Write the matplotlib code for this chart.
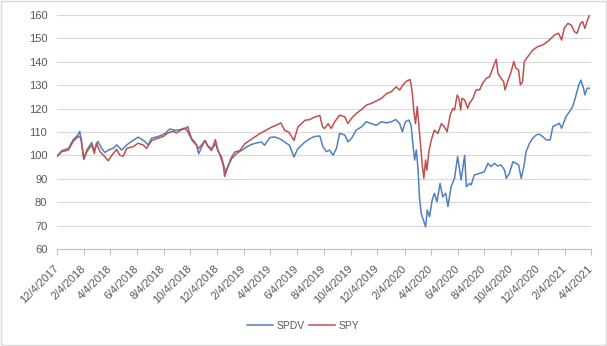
import matplotlib
matplotlib.use("Agg")
import matplotlib.pyplot as plt
import pandas as pd
from matplotlib.patches import Rectangle

plt.rcParams['font.family'] = ['Liberation Sans', 'DejaVu Sans']

start_date = "2017-12-04"

# SPY: days since 12/4/2017 and values
spy_day = [0, 11, 26, 37, 48, 55, 61, 68, 79, 85, 90, 98, 109, 117, 125, 136, 143, 151, 159, 174,
           185, 196, 204, 216, 231, 242, 253, 265, 272, 284, 295, 298, 300, 307, 314, 322, 329, 337,
           344, 352, 361, 367, 373, 379, 382, 389, 396, 405, 417, 428, 439, 451, 462, 473, 489, 500,
           510, 519, 528, 540, 549, 565, 576, 587, 599, 605, 610, 618, 625, 633, 644, 656, 663, 671,
           682, 694, 705, 716, 728, 739, 751, 762, 773, 781, 788, 797, 805, 810, 813, 817, 821, 825,
           829, 832, 836, 840, 843, 848, 853, 860, 868, 876, 883, 889, 896, 902, 906, 912, 916, 920,
           923, 929, 936, 940, 948, 955, 963, 970, 978, 986, 993, 1001, 1005, 1012, 1018, 1021, 1027,
           1035, 1041, 1046, 1052, 1056, 1061, 1065, 1073, 1084, 1096, 1107, 1118, 1126, 1134, 1143,
           1150, 1156, 1164, 1172, 1179, 1185, 1193, 1198, 1203, 1209, 1213]
spy_val = [99.5, 101.6, 102.3, 106.0, 108.1, 107.4, 98.3, 101.6, 104.5, 100.9, 105.2, 101.6, 99.4,
           97.7, 100.1, 102.6, 100.1, 99.7, 103.0, 103.8, 105.2, 104.5, 103.0, 106.4, 107.4, 108.1,
           109.6, 110.3, 109.6, 111.0, 111.7, 112.3, 110.7, 107.1, 105.7, 102.9, 104.3, 106.4, 103.9,
           102.1, 106.7, 102.1, 99.3, 95.7, 91.0, 95.0, 98.6, 101.4, 102.1, 105.0, 106.4, 107.9,
           109.3, 110.4, 112.1, 112.9, 113.9, 110.7, 110.0, 106.4, 112.1, 115.0, 115.3, 116.4, 117.1,
           112.2, 111.5, 113.6, 111.5, 114.4, 117.2, 116.5, 113.6, 115.8, 117.9, 119.6, 121.5, 122.2,
           123.3, 124.3, 126.4, 127.2, 129.3, 127.9, 130.0, 131.8, 132.4, 126.4, 119.3, 113.6, 120.8,
           112.2, 103.7, 96.6, 90.2, 98.0, 93.7, 102.3, 106.5, 110.8, 109.4, 113.6, 112.2, 110.1,
           117.2, 120.0, 119.4, 125.8, 124.4, 119.4, 124.4, 123.7, 120.1, 122.3, 124.4, 128.0, 128.0,
           130.8, 132.9, 133.6, 137.2, 141.1, 135.1, 132.9, 131.5, 128.0, 131.5, 135.8, 140.1, 137.2,
           136.5, 130.1, 131.5, 140.1, 142.2, 145.0, 146.5, 147.2, 148.6, 150.0, 151.5, 152.2, 149.3,
           154.3, 156.4, 155.7, 152.9, 152.2, 156.4, 157.2, 154.3, 157.9, 159.6]

# SPDV: days since 12/4/2017 and values
spdv_day = [0, 11, 26, 37, 48, 52, 61, 68, 79, 85, 93, 102, 109, 117, 128, 136, 147, 159, 170, 185,
            200, 208, 216, 231, 246, 257, 269, 280, 291, 299, 300, 308, 318, 323, 329, 337, 344, 354,
            361, 367, 375, 381, 384, 390, 398, 409, 420, 432, 443, 455, 466, 473, 485, 496, 508, 519,
            530, 540, 549, 565, 576, 587, 599, 606, 614, 621, 629, 637, 644, 656, 663, 671, 682, 694,
            705, 716, 728, 739, 751, 762, 772, 781, 787, 794, 802, 807, 811, 815, 819, 823, 826, 830,
            835, 840, 844, 849, 855, 860, 866, 873, 879, 886, 891, 898, 906, 913, 921, 929, 933, 940,
            944, 951, 963, 974, 982, 989, 997, 1004, 1012, 1020, 1024, 1031, 1039, 1046, 1052, 1058,
            1064, 1069, 1077, 1084, 1092, 1099, 1107, 1115, 1124, 1130, 1137, 1145, 1150, 1160, 1168,
            1175, 1181, 1188, 1194, 1200, 1203, 1208, 1213]
spdv_val = [99.7, 102.0, 103.0, 106.7, 108.8, 110.3, 98.7, 102.3, 105.5, 102.0, 106.0, 103.0, 101.2,
            102.3, 103.0, 104.5, 102.3, 104.5, 106.0, 107.8, 106.0, 104.5, 107.4, 108.1, 109.3, 111.3,
            110.7, 111.0, 111.7, 109.9, 109.3, 106.4, 104.3, 100.7, 103.3, 106.4, 103.9, 102.9, 105.0,
            101.9, 99.3, 95.0, 92.9, 95.3, 98.6, 100.7, 102.1, 103.6, 104.7, 105.3, 105.7, 104.3, 107.6,
            107.9, 107.1, 105.7, 104.3, 99.3, 102.9, 105.7, 107.1, 108.1, 108.3, 103.7, 101.6, 102.3,
            100.1, 103.0, 109.4, 108.7, 105.8, 107.2, 110.8, 112.2, 114.4, 113.6, 112.9, 114.4, 113.9,
            114.4, 115.3, 113.6, 110.1, 114.4, 115.1, 112.9, 105.1, 98.0, 102.3, 93.7, 82.3, 75.2, 72.4,
            69.5, 76.7, 73.8, 80.9, 83.8, 80.2, 88.0, 82.3, 83.8, 78.1, 86.6, 90.2, 99.5, 89.5, 100.0,
            86.6, 88.0, 87.4, 91.6, 92.3, 93.0, 96.6, 95.2, 96.6, 95.5, 95.9, 93.7, 90.2, 92.3, 97.3,
            96.6, 95.9, 90.2, 95.2, 101.6, 105.2, 107.3, 108.7, 109.1, 108.0, 106.6, 106.6, 112.3,
            113.0, 113.7, 111.6, 116.6, 118.7, 120.8, 124.4, 129.4, 132.2, 128.7, 125.8, 128.7, 128.7]

tick_dates = ["2017-12-04", "2018-02-04", "2018-04-04", "2018-06-04", "2018-08-04", "2018-10-04",
              "2018-12-04", "2019-02-04", "2019-04-04", "2019-06-04", "2019-08-04", "2019-10-04",
              "2019-12-04", "2020-02-04", "2020-04-04", "2020-06-04", "2020-08-04", "2020-10-04",
              "2020-12-04", "2021-02-04", "2021-04-04"]
y_ticks = [60, 70, 80, 90, 100, 110, 120, 130, 140, 150, 160]

t0 = pd.Timestamp(start_date)
spy_dates = t0 + pd.to_timedelta(spy_day, unit="D")
spdv_dates = t0 + pd.to_timedelta(spdv_day, unit="D")
ticks = pd.to_datetime(tick_dates)
tick_labels = [f"{d.month}/{d.day}/{d.year}" for d in ticks]

fig = plt.figure(figsize=(6.07, 3.46), dpi=100)
ax = fig.add_axes([57/607, 1-249/346, (591-57)/607, (249-15)/346])

blue = "#4F81BD"
red = "#C0504D"
ax.plot(spdv_dates, spdv_val, color=blue, lw=1.1, label="SPDV")
ax.plot(spy_dates, spy_val, color=red, lw=1.1, label="SPY")

ax.set_xlim(ticks[0], ticks[-1])
ax.set_ylim(60, 160)
ax.set_yticks(y_ticks)
ax.set_xticks(ticks)
ax.set_xticklabels(tick_labels, rotation=45, ha="right", va="center", rotation_mode="anchor")
ax.grid(axis="y", color="#D9D9D9", lw=0.8)
ax.set_axisbelow(True)
for s in ["left", "right", "top"]:
    ax.spines[s].set_visible(False)
ax.spines["bottom"].set_color("#BFBFBF")
ax.spines["bottom"].set_linewidth(0.8)
ax.tick_params(axis="y", length=0, pad=7, labelsize=8, labelcolor="#595959")
ax.tick_params(axis="x", length=4, color="#BFBFBF", pad=9, labelsize=8, labelcolor="#595959")

fig.legend(loc="center", bbox_to_anchor=(303/607, 1-326/346), ncol=2, frameon=False,
           fontsize=7.5, handlelength=2.5, columnspacing=0.35, handletextpad=0.4,
           labelcolor="#595959")

fig.patches.append(Rectangle((0.0015, 0.002), 0.997, 0.995, transform=fig.transFigure,
                             fill=False, edgecolor="#D9D9D9", lw=1))
fig.savefig("out.png", dpi=100, facecolor="white")
